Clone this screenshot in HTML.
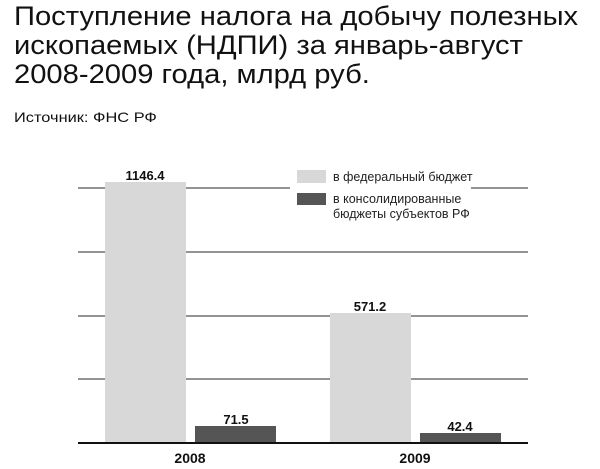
<!DOCTYPE html>
<html><head><meta charset="utf-8"><style>
body{margin:0;width:600px;height:469px;background:#fff;overflow:hidden;font-family:"Liberation Sans",sans-serif;}
.t{position:absolute;left:14px;top:2px;font-size:27px;line-height:29px;color:#111;transform:scaleX(1.08);transform-origin:0 0;white-space:nowrap}
.s{position:absolute;left:14px;top:109px;font-size:14px;color:#111;transform:scaleX(1.17);transform-origin:0 0;white-space:nowrap}
</style></head><body>
<div class="t">Поступление налога на добычу полезных<br>ископаемых (НДПИ) за январь-август<br>2008-2009 года, млрд руб.</div>
<div class="s">Источник: ФНС РФ</div>
<svg width="600" height="469" style="position:absolute;left:0;top:0" font-family="Liberation Sans, sans-serif">
<g stroke="#555" stroke-width="1.3">
<line x1="78" y1="188" x2="290" y2="188"/><line x1="471" y1="188" x2="528" y2="188"/>
<line x1="78" y1="252" x2="528" y2="252"/>
<line x1="78" y1="316" x2="528" y2="316"/>
<line x1="78" y1="379" x2="528" y2="379"/>
</g>
<rect x="105" y="182" width="81" height="261" fill="#d8d8d8"/>
<rect x="195" y="426" width="81" height="17" fill="#555"/>
<rect x="330" y="313" width="81" height="130" fill="#d8d8d8"/>
<rect x="420" y="433" width="81" height="10" fill="#555"/>
<line x1="78" y1="443" x2="528" y2="443" stroke="#111" stroke-width="2"/>
<g font-weight="bold" font-size="13" text-anchor="middle" fill="#111">
<text x="145" y="180">1146.4</text><text x="236" y="424">71.5</text>
<text x="370" y="311">571.2</text><text x="460" y="431">42.4</text>
<text x="190" y="463" font-size="14">2008</text><text x="415" y="463" font-size="14">2009</text>
</g>
<rect x="297" y="170" width="29" height="13" fill="#d8d8d8"/>
<rect x="297" y="193" width="29" height="12" fill="#555"/>
<g font-size="12.5" fill="#222">
<text x="333" y="181">в федеральный бюджет</text>
<text x="333" y="203">в консолидированные</text>
<text x="333" y="218">бюджеты субъектов РФ</text>
</g>
</svg>
</body></html>
